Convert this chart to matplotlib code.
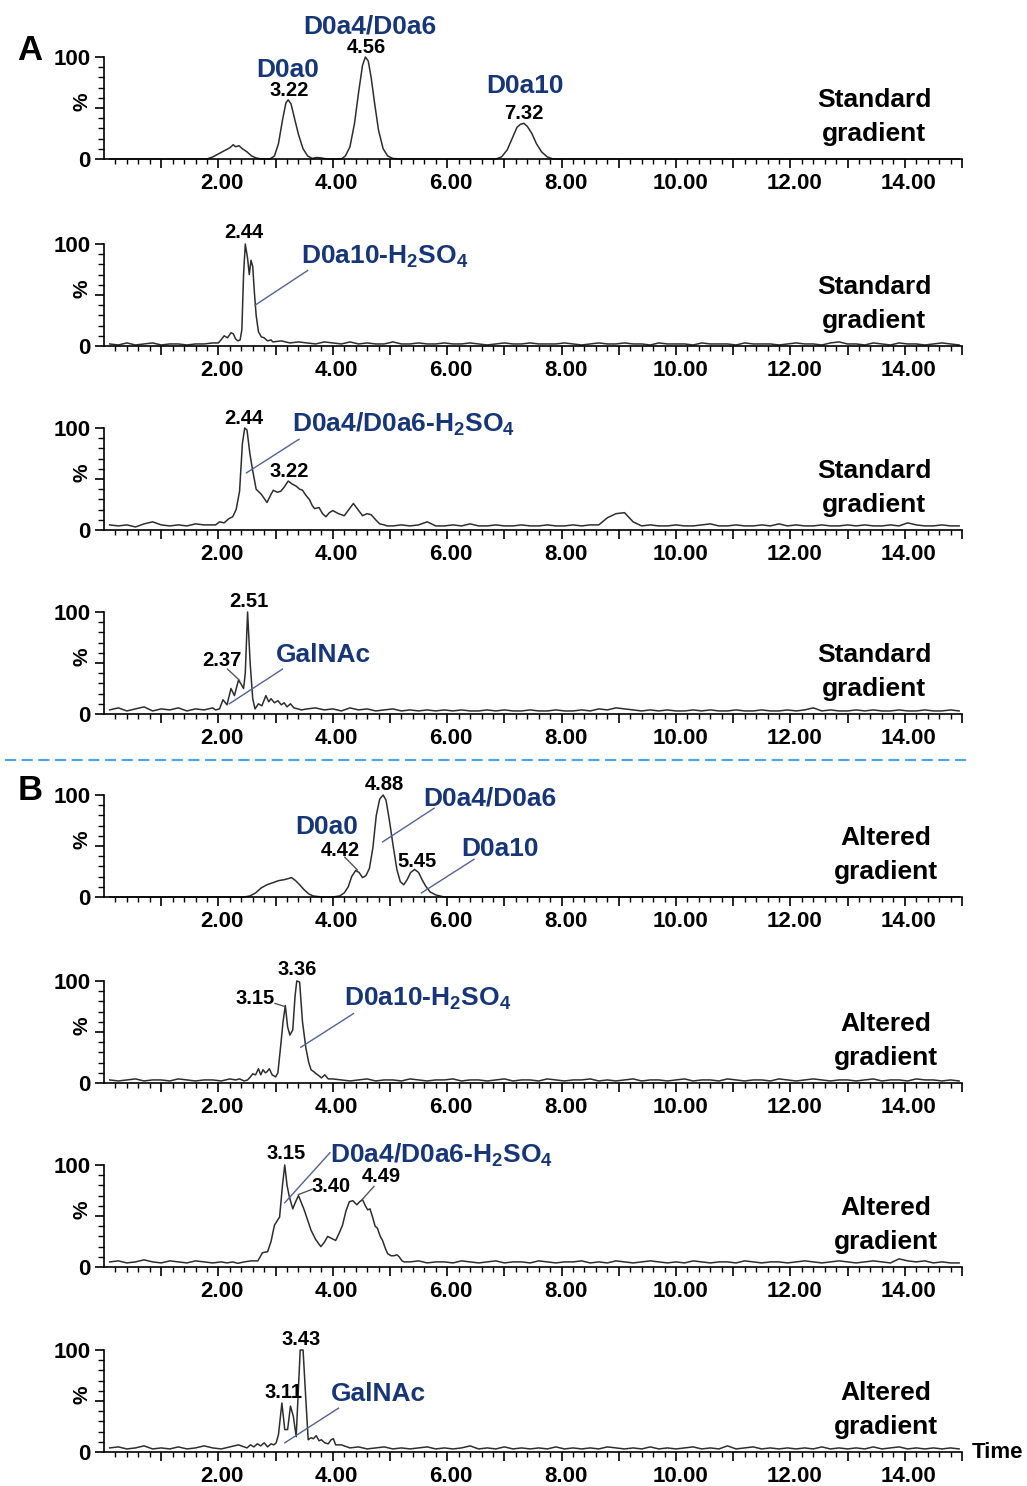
import matplotlib.pyplot as plt
from matplotlib.ticker import FixedLocator, FuncFormatter
from matplotlib.lines import Line2D
from matplotlib.transforms import ScaledTranslation

plt.rcParams['font.family'] = ['Liberation Sans', 'DejaVu Sans']
plt.rcParams['font.weight'] = 'bold'
plt.rcParams['mathtext.fontset'] = 'custom'
plt.rcParams['mathtext.rm'] = 'Liberation Sans:bold'
plt.rcParams['mathtext.it'] = 'Liberation Sans:bold'
plt.rcParams['mathtext.bf'] = 'Liberation Sans:bold'
plt.rcParams['mathtext.default'] = 'bf'

# sampling times for the noisy baselines (min)
t_base = [0.1, 0.25, 0.4, 0.55, 0.7, 0.85, 1.0, 1.15, 1.3, 1.45,
          1.6, 1.75, 1.9, 2.05, 2.2, 2.35, 2.5, 2.65, 2.8, 2.95,
          3.1, 3.25, 3.4, 3.55, 3.7, 3.85, 4.0, 4.15, 4.3, 4.45,
          4.6, 4.75, 4.9, 5.05, 5.2, 5.35, 5.5, 5.65, 5.8, 5.95,
          6.1, 6.25, 6.4, 6.55, 6.7, 6.85, 7.0, 7.15, 7.3, 7.45,
          7.6, 7.75, 7.9, 8.05, 8.2, 8.35, 8.5, 8.65, 8.8, 8.95,
          9.1, 9.25, 9.4, 9.55, 9.7, 9.85, 10.0, 10.15, 10.3, 10.45,
          10.6, 10.75, 10.9, 11.05, 11.2, 11.35, 11.5, 11.65, 11.8, 11.95,
          12.1, 12.25, 12.4, 12.55, 12.7, 12.85, 13.0, 13.15, 13.3, 13.45,
          13.6, 13.75, 13.9, 14.05, 14.2, 14.35, 14.5, 14.65, 14.8, 14.95]

noise2 = [2, 1, 3, 1, 2, 3, 1, 2, 2, 1,
          2, 2, 3, 3, 2, 2, 2, 2, 3, 4,
          5, 3, 4, 3, 2, 4, 3, 2, 4, 2,
          3, 2, 2, 4, 2, 2, 3, 2, 2, 3,
          2, 2, 3, 2, 1, 2, 3, 2, 2, 3,
          2, 2, 2, 3, 2, 1, 2, 3, 2, 2,
          3, 2, 2, 1, 3, 2, 2, 2, 1, 3,
          2, 2, 2, 1, 3, 2, 2, 2, 1, 2,
          3, 2, 2, 1, 3, 4, 2, 2, 1, 3,
          2, 1, 3, 2, 2, 1, 2, 3, 2, 1]
noise3 = [5, 4, 5, 3, 6, 8, 5, 4, 5, 4,
          6, 5, 5, 7, 6, 5, 6, 5, 6, 6,
          5, 5, 5, 5, 5, 5, 5, 5, 5, 5,
          5, 5, 5, 4, 5, 4, 5, 8, 4, 4,
          5, 4, 6, 4, 4, 5, 4, 4, 5, 4,
          4, 5, 4, 4, 5, 4, 5, 5, 12, 16,
          17, 8, 4, 5, 4, 4, 5, 4, 4, 5,
          6, 4, 4, 5, 4, 4, 5, 4, 6, 4,
          5, 4, 4, 5, 4, 4, 5, 4, 5, 4,
          4, 5, 4, 7, 5, 4, 4, 5, 4, 4]
noise4 = [4, 6, 3, 5, 7, 3, 5, 4, 6, 3,
          5, 4, 6, 5, 5, 5, 5, 5, 5, 5,
          5, 5, 5, 5, 6, 4, 5, 3, 6, 4,
          5, 3, 4, 5, 3, 4, 3, 4, 3, 4,
          3, 4, 3, 3, 4, 3, 4, 3, 3, 4,
          3, 3, 4, 3, 3, 4, 3, 5, 4, 6,
          5, 4, 3, 4, 3, 4, 3, 3, 4, 3,
          4, 3, 3, 4, 3, 3, 4, 3, 3, 4,
          3, 4, 6, 3, 4, 3, 3, 4, 3, 4,
          3, 3, 4, 3, 3, 4, 3, 3, 4, 3]
noise6 = [3, 2, 3, 4, 2, 3, 3, 2, 4, 3,
          2, 3, 3, 2, 4, 3, 3, 3, 3, 3,
          3, 3, 3, 3, 3, 3, 4, 3, 2, 3,
          4, 2, 3, 3, 2, 4, 3, 2, 3, 3,
          4, 2, 3, 3, 2, 3, 4, 2, 3, 3,
          2, 4, 3, 2, 3, 3, 4, 2, 3, 2,
          3, 4, 2, 3, 3, 2, 3, 4, 2, 3,
          3, 2, 4, 3, 2, 3, 3, 2, 4, 3,
          2, 3, 4, 3, 2, 3, 3, 2, 3, 4,
          2, 3, 3, 2, 4, 3, 3, 2, 3, 2]
noise7 = [5, 6, 4, 5, 7, 5, 4, 6, 5, 4,
          6, 5, 4, 5, 5, 5, 5, 5, 5, 5,
          5, 5, 5, 5, 5, 5, 5, 5, 5, 5,
          5, 5, 5, 5, 4, 5, 6, 4, 5, 5,
          4, 6, 5, 4, 5, 6, 4, 5, 5, 4,
          6, 5, 4, 5, 5, 6, 4, 5, 4, 6,
          5, 4, 5, 6, 5, 4, 5, 4, 6, 5,
          4, 5, 5, 4, 6, 5, 4, 5, 5, 4,
          5, 6, 5, 4, 5, 6, 5, 4, 5, 6,
          5, 4, 8, 6, 5, 6, 4, 5, 4, 4]
noise8 = [4, 5, 3, 4, 6, 3, 4, 3, 5, 3,
          4, 6, 4, 3, 5, 7, 4, 6, 5, 4,
          5, 5, 5, 5, 5, 5, 5, 7, 4, 5,
          3, 4, 5, 3, 4, 3, 4, 5, 3, 4,
          3, 4, 6, 3, 4, 3, 5, 3, 4, 3,
          4, 3, 5, 3, 4, 3, 4, 3, 5, 4,
          3, 4, 3, 5, 3, 4, 3, 4, 5, 3,
          4, 3, 6, 3, 4, 5, 3, 4, 3, 4,
          3, 4, 3, 5, 3, 4, 3, 4, 3, 5,
          3, 4, 5, 3, 4, 3, 4, 3, 4, 3]

# peak regions (time in min, intensity in %)
p1_t = [0.1, 1.80, 1.9, 2.0, 2.1, 2.2, 2.26, 2.3, 2.36, 2.42, 2.5, 2.58, 2.66, 2.75,
        2.9, 2.98, 3.05, 3.12, 3.18, 3.22, 3.27, 3.33, 3.4, 3.48, 3.56, 3.64, 3.72, 3.8, 3.9,
        4.15, 4.22, 4.3, 4.38, 4.45, 4.52, 4.57, 4.62, 4.67, 4.73, 4.8, 4.88, 4.96, 5.05, 5.2,
        6.85, 6.95, 7.05, 7.15, 7.22, 7.28, 7.34, 7.4, 7.48, 7.56, 7.65, 7.75, 7.85, 14.95]
p1_y = [0, 0, 2, 5, 8, 11, 14, 12, 13, 10, 7, 3, 1, 0,
        0, 3, 15, 38, 55, 58, 54, 40, 24, 10, 3, 0.5, 1.5, 1, 0,
        0, 3, 12, 35, 65, 92, 100, 96, 80, 55, 28, 10, 3, 0.5, 0,
        0, 2, 9, 22, 31, 34, 35, 32, 25, 15, 7, 2, 0, 0]

p2_t = [1.95, 2.0, 2.06, 2.1, 2.16, 2.22, 2.26, 2.3, 2.34, 2.38, 2.41, 2.44, 2.47,
        2.51, 2.54, 2.57, 2.6, 2.63, 2.66, 2.7, 2.75, 2.8, 2.86, 2.92, 2.95]
p2_y = [3, 3, 7, 10, 8, 13, 12, 7, 5, 6, 16, 70, 100,
        86, 70, 84, 78, 52, 30, 14, 9, 8, 5, 6, 4]

p3_t = [1.95, 2.02, 2.1, 2.18, 2.25, 2.31, 2.37, 2.42, 2.46, 2.5,
        2.55, 2.6, 2.66, 2.75, 2.85, 2.92, 2.96, 3.03, 3.09, 3.15,
        3.22, 3.29, 3.36, 3.42, 3.47, 3.53, 3.59, 3.64, 3.68, 3.76,
        3.82, 3.88, 3.94, 4.0, 4.1, 4.2, 4.28, 4.36, 4.44, 4.52,
        4.6, 4.67, 4.75, 4.82, 4.9, 4.95]
p3_y = [5, 8, 7, 11, 13, 20, 38, 85, 100, 98,
        75, 58, 40, 35, 27, 35, 39, 37, 38, 42,
        48, 45, 43, 40, 39, 34, 30, 24, 21, 22,
        16, 13, 17, 19, 16, 14, 20, 26, 20, 14,
        16, 15, 10, 6, 5, 4]

p4_t = [1.95, 2.02, 2.08, 2.15, 2.22, 2.28, 2.35, 2.39, 2.44, 2.47,
        2.51, 2.555, 2.6, 2.64, 2.7, 2.76, 2.83, 2.88, 2.92, 2.98,
        3.04, 3.1, 3.15, 3.2, 3.26, 3.32, 3.39, 3.45]
p4_y = [4, 5, 14, 9, 25, 18, 33, 30, 25, 40,
        100, 50, 15, 5, 10, 8, 18, 12, 15, 11,
        13, 9, 11, 7, 10, 6, 5, 4]

p5_t = [0.1, 2.45, 2.55, 2.65, 2.75, 2.85, 2.95, 3.05, 3.15, 3.22,
        3.28, 3.35, 3.42, 3.5, 3.58, 3.66, 3.8, 4.0, 4.12, 4.2,
        4.27, 4.33, 4.4, 4.46, 4.52, 4.58, 4.64, 4.7, 4.76, 4.82,
        4.88, 4.93, 4.99, 5.05, 5.12, 5.18, 5.24, 5.3, 5.36, 5.43,
        5.5, 5.56, 5.62, 5.7, 5.8, 5.95, 14.95]
p5_y = [0, 0, 1, 4, 9, 12, 14, 16, 17, 18,
        19, 16, 12, 7, 3, 1, 0, 0, 1, 4,
        10, 20, 26, 24, 19, 21, 28, 48, 80, 96,
        100, 95, 75, 52, 27, 15, 12, 17, 24, 27,
        24, 17, 11, 5, 2, 0, 0]

p6_t = [2.3, 2.37, 2.45, 2.51, 2.56, 2.6, 2.65, 2.7, 2.74, 2.78,
        2.82, 2.85, 2.89, 2.94, 3.0, 3.04, 3.09, 3.13, 3.17, 3.21,
        3.25, 3.3, 3.34, 3.37, 3.42, 3.47, 3.53, 3.58, 3.62, 3.67,
        3.71, 3.76, 3.8, 3.86, 3.92]
p6_y = [3, 4, 2, 3, 6, 9, 8, 14, 8, 13,
        10, 11, 14, 8, 6, 10, 37, 60, 76, 55,
        47, 52, 85, 100, 99, 60, 34, 20, 13, 11,
        9, 7, 5, 8, 4]

p7_t = [2.05, 2.15, 2.25, 2.34, 2.45, 2.57, 2.69, 2.73, 2.77, 2.86,
        2.92, 2.98, 3.07, 3.12, 3.16, 3.2, 3.24, 3.3, 3.35, 3.4,
        3.45, 3.5, 3.56, 3.62, 3.7, 3.79, 3.85, 3.91, 3.98, 4.05,
        4.11, 4.17, 4.23, 4.29, 4.35, 4.42, 4.47, 4.52, 4.57, 4.61,
        4.65, 4.69, 4.74, 4.78, 4.83, 4.87, 4.92, 4.96, 5.02, 5.07,
        5.12, 5.16, 5.21, 5.25, 5.3]
p7_y = [5, 4, 5, 3.6, 5, 6, 6, 10, 14, 15,
        25, 41, 49, 80, 100, 80, 69, 57, 64, 70,
        63, 56, 46, 36, 27, 20, 24, 30, 28, 26,
        33, 41, 55, 64, 65, 61, 64, 66, 60, 56,
        57, 50, 40, 38, 30, 26, 18, 13, 11, 11,
        12, 10, 6, 5, 5]

p8_t = [2.5, 2.56, 2.62, 2.68, 2.74, 2.8, 2.86, 2.92, 2.97, 3.01,
        3.05, 3.11, 3.16, 3.21, 3.26, 3.31, 3.36, 3.43, 3.48, 3.53,
        3.57, 3.62, 3.66, 3.71, 3.76, 3.8, 3.86, 3.92, 3.97, 4.01,
        4.05]
p8_y = [4, 7, 5, 8, 6, 9, 5, 8, 7, 9,
        17, 48, 22, 22, 45, 35, 15, 100, 100, 50,
        12, 14, 13, 16, 11, 12, 9, 8, 12, 13,
        7]

NAVY = '#173679'
LEAD = '#52629a'
W, H = 1027, 1486
base_px = [159, 346, 530, 714, 897, 1083, 1267, 1452]


def trace(noise, pt, py):
    if noise is None:
        return pt, py
    lo, hi = pt[0], pt[-1]
    pts = [(t, v) for t, v in zip(t_base, noise) if t < lo or t > hi]
    pts = sorted(pts + list(zip(pt, py)))
    return [p[0] for p in pts], [p[1] for p in pts]


def peak(ax, t, v, s):
    ax.text(t, v, s, ha='center', va='center', fontsize=14.5, fontweight='bold')


def name(ax, t, v, s, ha='left'):
    ax.text(t, v, s, ha=ha, va='baseline', fontsize=19, fontweight='bold', color=NAVY)


def lead(ax, t0, v0, t1, v1, color=LEAD):
    ax.plot([t0, t1], [v0, v1], color=color, lw=1, clip_on=False)


fig = plt.figure(figsize=(W / 100, H / 100), dpi=100)
shift = ScaledTranslation(4 / 100, 0, fig.dpi_scale_trans)

traces = [trace(None, p1_t, p1_y), trace(noise2, p2_t, p2_y),
          trace(noise3, p3_t, p3_y), trace(noise4, p4_t, p4_y),
          trace(None, p5_t, p5_y), trace(noise6, p6_t, p6_y),
          trace(noise7, p7_t, p7_y), trace(noise8, p8_t, p8_y)]

axes = []
for i, b in enumerate(base_px):
    ax = fig.add_axes([104 / W, 1 - b / H, 858 / W, 102 / H])
    t, y = traces[i]
    ax.plot(t, y, color='#2e2e2e', lw=1.1, clip_on=False)
    ax.set_xlim(0, 15)
    ax.set_ylim(0, 100)
    for s in ['top', 'right']:
        ax.spines[s].set_visible(False)
    for s in ['left', 'bottom']:
        ax.spines[s].set_linewidth(1.2)
    ax.xaxis.set_major_locator(FixedLocator(list(range(1, 16))))
    ax.xaxis.set_minor_locator(FixedLocator([k / 5 for k in range(1, 75) if k % 5]))
    ax.xaxis.set_major_formatter(FuncFormatter(
        lambda v, p: f"{v:.2f}" if round(v) % 2 == 0 else ""))
    ax.tick_params(axis='x', which='major', length=6.5, width=1.2, pad=3.5, labelsize=16)
    ax.tick_params(axis='x', which='minor', length=3.5, width=1)
    for lab in ax.get_xticklabels():
        lab.set_transform(lab.get_transform() + shift)
    ax.set_yticks([0, 50, 100])
    ax.set_yticklabels(['0', '', '100'])
    ax.yaxis.set_minor_locator(FixedLocator([10, 20, 30, 40, 60, 70, 80, 90]))
    ax.tick_params(axis='y', which='major', length=6.5, width=1.2, pad=3, labelsize=16)
    ax.tick_params(axis='y', which='minor', length=4, width=1)
    ax.text(-0.026, 0.56, '%', transform=ax.transAxes, rotation=90,
            ha='center', va='center', fontsize=15, fontweight='bold')
    axes.append(ax)

a1, a2, a3, a4, a5, a6, a7, a8 = axes

# A: standard gradient
name(a1, 3.22, 80, 'D0a0', ha='center')
peak(a1, 3.23, 67, '3.22')
name(a1, 4.65, 123, 'D0a4/D0a6', ha='center')
peak(a1, 4.58, 109, '4.56')
name(a1, 7.36, 65, 'D0a10', ha='center')
peak(a1, 7.34, 45, '7.32')

peak(a2, 2.45, 111, '2.44')
name(a2, 3.44, 81, 'D0a10-H$_2$SO$_4$')
lead(a2, 3.56, 74, 2.64, 40)

peak(a3, 2.45, 109, '2.44')
name(a3, 3.28, 96, 'D0a4/D0a6-H$_2$SO$_4$')
lead(a3, 3.41, 89, 2.49, 56)
peak(a3, 3.23, 57, '3.22')

peak(a4, 2.53, 110, '2.51')
peak(a4, 2.06, 52, '2.37')
lead(a4, 2.16, 44, 2.37, 33, color='#555555')
name(a4, 3.01, 51, 'GalNAc')
lead(a4, 3.12, 44, 2.19, 10)

# B: altered gradient
peak(a5, 4.90, 110, '4.88')
name(a5, 5.58, 90, 'D0a4/D0a6')
lead(a5, 5.77, 87, 4.87, 54)
name(a5, 3.89, 62, 'D0a0', ha='center')
peak(a5, 4.13, 46, '4.42')
lead(a5, 4.21, 39, 4.43, 26.5, color='#555555')
peak(a5, 5.48, 35, '5.45')
name(a5, 6.25, 40, 'D0a10')
lead(a5, 6.47, 37, 5.55, 4)

peak(a6, 3.38, 111, '3.36')
peak(a6, 2.64, 83, '3.15')
lead(a6, 2.99, 78, 3.16, 75, color='#555555')
name(a6, 4.20, 76, 'D0a10-H$_2$SO$_4$')
lead(a6, 4.36, 68, 3.44, 35)

peak(a7, 3.18, 111, '3.15')
name(a7, 3.95, 102, 'D0a4/D0a6-H$_2$SO$_4$')
lead(a7, 3.95, 112, 3.16, 63)
peak(a7, 3.97, 79, '3.40')
lead(a7, 3.63, 76, 3.40, 71, color='#555555')
peak(a7, 4.85, 89, '4.49')
lead(a7, 4.72, 79, 4.51, 66, color='#555555')

peak(a8, 3.44, 110, '3.43')
peak(a8, 3.13, 58, '3.11')
name(a8, 3.97, 50, 'GalNAc')
lead(a8, 4.10, 43, 3.16, 9)

# side notes and panel letters
for i, b in enumerate(base_px):
    label = 'Standard\ngradient' if i < 4 else 'Altered\ngradient'
    cx = 874 if i < 4 else 886
    fig.text(cx / W, 1 - (b - 42) / H, label, ha='center', va='center',
             multialignment='center', fontsize=19, fontweight='bold', linespacing=1.5)

fig.text(30 / W, 1 - 50 / H, 'A', ha='center', va='center', fontsize=25, fontweight='bold')
fig.text(30 / W, 1 - 790 / H, 'B', ha='center', va='center', fontsize=25, fontweight='bold')
fig.text(972 / W, 1 - 1452 / H, 'Time', ha='left', va='center', fontsize=16, fontweight='bold')

fig.add_artist(Line2D([5 / W, 970 / W], [1 - 760 / H, 1 - 760 / H], color='#4da6e8',
                      lw=1.6, dashes=[5, 2.5]))

plt.savefig('out.png', dpi=100)
